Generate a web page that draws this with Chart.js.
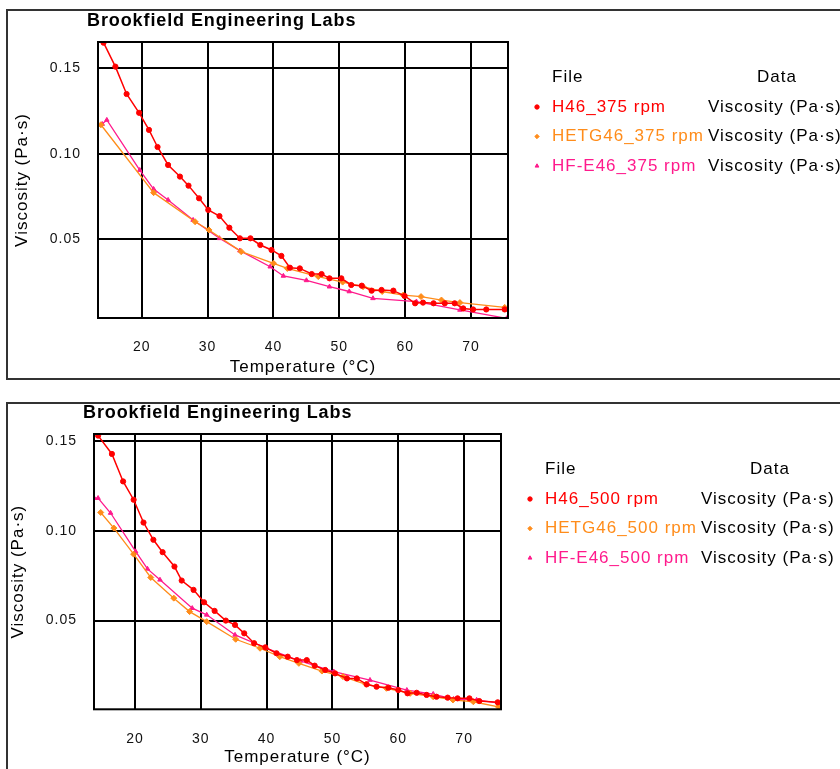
<!DOCTYPE html>
<html>
<head>
<meta charset="utf-8">
<script src="https://cdn.jsdelivr.net/npm/chart.js@4.4.1/dist/chart.umd.min.js"></script>
<style>
  html, body { margin: 0; padding: 0; background: #fff; width: 840px; height: 769px; overflow: hidden; }
  .box { position: absolute; left: 6px; width: 900px; border: 2px solid #333; box-sizing: border-box; }
  #box1 { top: 9px; height: 371px; }
  #box2 { top: 402px; height: 420px; }
  canvas { position: absolute; left: 0; }
  #c1 { top: 0; }
  #c2 { top: 392px; }
</style>
</head>
<body>
<div class="box" id="box1"></div>
<div class="box" id="box2"></div>
<canvas id="c1" width="840" height="390"></canvas>
<canvas id="c2" width="840" height="390"></canvas>
<script>
// --- data ---
const chartTitle = 'Brookfield Engineering Labs';
const xTitle = 'Temperature (°C)';
const yTitle = 'Viscosity (Pa·s)';
const dataColumn = 'Viscosity (Pa·s)';

const files375 = ['H46_375 rpm', 'HETG46_375 rpm', 'HF-E46_375 rpm'];
const files500 = ['H46_500 rpm', 'HETG46_500 rpm', 'HF-E46_500 rpm'];

const h46_375T = [14.2, 16.0, 17.7, 19.6, 21.1, 22.4, 24.0, 25.8, 27.1, 28.7, 30.1, 31.8, 33.3, 34.9, 36.5, 38.0, 39.7, 41.2, 42.5, 44.0, 45.8, 47.3, 48.5, 50.3, 51.8, 53.4, 54.9, 56.4, 58.2, 59.9, 61.5, 62.7, 64.3, 66.0, 67.5, 68.8, 70.3, 72.3, 75.1];
const h46_375V = [0.165, 0.151, 0.135, 0.124, 0.114, 0.104, 0.0935, 0.0867, 0.0814, 0.074, 0.0672, 0.0636, 0.0568, 0.0506, 0.0506, 0.0467, 0.0438, 0.0403, 0.0334, 0.033, 0.0297, 0.0297, 0.0272, 0.0272, 0.0233, 0.0229, 0.02, 0.0204, 0.02, 0.0169, 0.0126, 0.013, 0.0126, 0.0126, 0.0126, 0.0096, 0.009, 0.009, 0.009];
const hetg46_375T = [13.8, 21.8, 28.1, 30.2, 35.1, 40.0, 42.1, 46.8, 50.5, 53.6, 56.5, 59.7, 62.4, 65.5, 68.3, 75.1];
const hetg46_375V = [0.117, 0.0773, 0.0603, 0.0555, 0.0428, 0.036, 0.033, 0.0282, 0.025, 0.0223, 0.0195, 0.0174, 0.0165, 0.0145, 0.013, 0.0102];
const hfe46_375T = [14.0, 14.7, 19.7, 21.8, 24.0, 27.8, 31.8, 34.9, 39.5, 41.5, 45.0, 48.5, 51.5, 55.1, 61.7, 68.3, 75.4];
const hfe46_375V = [0.1174, 0.1198, 0.0905, 0.0794, 0.073, 0.0613, 0.0506, 0.0434, 0.034, 0.0286, 0.026, 0.0223, 0.0195, 0.0155, 0.0136, 0.0087, 0.0038];

const h46_500T = [14.4, 16.5, 18.2, 19.8, 21.3, 22.8, 24.2, 26.0, 27.1, 28.9, 30.5, 32.1, 33.8, 35.2, 36.6, 38.1, 39.8, 41.5, 43.2, 44.6, 46.1, 47.3, 48.9, 50.4, 52.2, 53.7, 55.2, 56.7, 58.5, 60.0, 61.4, 62.8, 64.3, 65.8, 67.5, 69.0, 70.8, 72.3, 75.1];
const h46_500V = [0.153, 0.1428, 0.1275, 0.1173, 0.1046, 0.095, 0.0881, 0.0801, 0.0723, 0.0671, 0.0602, 0.0554, 0.05, 0.0476, 0.0429, 0.0374, 0.0351, 0.0318, 0.0299, 0.028, 0.028, 0.0249, 0.0225, 0.0206, 0.0178, 0.0178, 0.0145, 0.0132, 0.0126, 0.0113, 0.0095, 0.0098, 0.0086, 0.0076, 0.0071, 0.0067, 0.0067, 0.0052, 0.0045];
const hetg46_500T = [14.8, 16.8, 19.8, 22.4, 25.9, 28.3, 30.9, 35.3, 39.0, 42.0, 44.9, 48.4, 51.6, 55.1, 58.2, 61.8, 65.3, 68.3, 71.4, 75.2];
const hetg46_500V = [0.1102, 0.1015, 0.087, 0.074, 0.0625, 0.055, 0.0494, 0.0396, 0.0346, 0.0299, 0.0262, 0.0219, 0.0188, 0.0145, 0.0123, 0.0095, 0.0076, 0.0058, 0.0048, 0.002];
const hfe46_500T = [13.8, 14.4, 16.3, 20.1, 21.9, 23.8, 28.7, 30.9, 35.2, 40.0, 45.1, 50.2, 55.7, 61.3, 65.3, 68.4, 71.9, 75.5];
const hfe46_500V = [0.1182, 0.1182, 0.1099, 0.0885, 0.0788, 0.0727, 0.0569, 0.0532, 0.042, 0.0346, 0.0275, 0.0216, 0.0169, 0.0113, 0.0091, 0.0063, 0.0058, 0.0039];

const xTicks = [20, 30, 40, 50, 60, 70];
const yStep = 0.05;

// --- look ---
const FONT = '"Liberation Sans", Arial, sans-serif';
Chart.defaults.font.family = FONT;

const styles = [
  { color: '#ff0000', pointStyle: 'circle', radius: 2.6, width: 1.5 },
  { color: '#ff8c1a', pointStyle: 'rectRot', radius: 3, width: 1.3 },
  { color: '#ff1a8c', pointStyle: 'triangle', radius: 2.6, width: 1.3 },
];

const zip = (xs, ys) => xs.map((x, i) => ({ x, y: ys[i] }));

const framePlugin = {
  id: 'frame',
  beforeDraw(chart) {
    chart.ctx.letterSpacing = '1px';
  },
  afterDraw(chart, args, opts) {
    const { ctx, chartArea: a } = chart;
    ctx.save();
    ctx.strokeStyle = '#000';
    ctx.lineWidth = 2;
    ctx.strokeRect(a.left, a.top, a.right - a.left, a.bottom - a.top);

    ctx.letterSpacing = '0.9px';
    ctx.font = 'bold 18px ' + FONT;
    ctx.fillStyle = '#000';
    ctx.textAlign = 'left';
    ctx.textBaseline = 'middle';
    ctx.fillText(opts.title, a.left - 11, a.top - 21);

    // two column legend: File / Data
    ctx.letterSpacing = '1px';
    ctx.font = '17px ' + FONT;
    const lx = a.right;
    ctx.fillText('File', lx + 44, a.top + 35);
    ctx.fillText('Data', lx + 249, a.top + 35);
    chart.data.datasets.forEach((ds, i) => {
      const y = a.top + 65 + i * 29.5;
      ctx.fillStyle = ds.borderColor;
      ctx.strokeStyle = ds.borderColor;
      ctx.lineWidth = 1;
      Chart.helpers.drawPoint(ctx, { pointStyle: ds.pointStyle, radius: 2.2, rotation: 0, borderWidth: 1 }, lx + 29, y);
      ctx.fillText(ds.label, lx + 44, y);
      ctx.fillStyle = '#000';
      ctx.fillText(opts.dataLabel, lx + 200, y);
    });
    ctx.restore();
  }
};

function makeChart(id, p, files, series) {
  const datasets = series.map((s, i) => ({
    label: files[i],
    data: zip(s[0], s[1]),
    showLine: true,
    borderColor: styles[i].color,
    backgroundColor: styles[i].color,
    borderWidth: styles[i].width,
    pointStyle: styles[i].pointStyle,
    pointRadius: styles[i].radius,
    pointBorderWidth: 1,
    pointBackgroundColor: styles[i].color,
    tension: 0,
  }));

  return new Chart(document.getElementById(id), {
    type: 'scatter',
    data: { datasets },
    plugins: [framePlugin],
    options: {
      responsive: false,
      animation: false,
      events: [],
      layout: { padding: { top: 42, right: p.padR, left: 0, bottom: 0 } },
      plugins: {
        legend: { display: false },
        tooltip: { enabled: false },
        frame: { title: chartTitle, dataLabel: dataColumn },
      },
      scales: {
        x: {
          type: 'linear',
          min: p.xmin,
          max: p.xmax,
          afterFit: s => { s.height = p.xH; },
          afterBuildTicks: s => { s.ticks = xTicks.map(v => ({ value: v })); },
          grid: { color: '#000', lineWidth: 2, drawTicks: false },
          border: { display: false },
          ticks: { color: '#111', font: { size: 14 }, padding: 21, maxRotation: 0 },
          title: { display: true, text: xTitle, color: '#000', font: { size: 17 }, padding: { top: 0, bottom: p.xtb } },
        },
        y: {
          type: 'linear',
          min: p.ymin,
          max: p.ymax,
          afterFit: s => { s.width = p.yW; },
          grid: { color: '#000', lineWidth: 2, drawTicks: false },
          border: { display: false },
          ticks: {
            stepSize: yStep,
            includeBounds: false,
            color: '#111',
            font: { size: 14 },
            padding: 17,
            callback: v => v.toFixed(2),
          },
          title: { display: true, text: yTitle, color: '#000', font: { size: 17 }, padding: { top: p.ytp, bottom: 0 } },
        },
      },
    },
  });
}

const panel1 = { yW: 98, xH: 72, padR: 332, xmin: 13.36, xmax: 75.6, ymin: 0.004, ymax: 0.1654, ytp: 12, xtb: 12 };
const panel2 = { yW: 94, xH: 72.7, padR: 339, xmin: 13.78, xmax: 75.6, ymin: 0.0006, ymax: 0.1539, ytp: 8, xtb: 14 };

makeChart('c1', panel1, files375, [
  [h46_375T, h46_375V],
  [hetg46_375T, hetg46_375V],
  [hfe46_375T, hfe46_375V],
]);
makeChart('c2', panel2, files500, [
  [h46_500T, h46_500V],
  [hetg46_500T, hetg46_500V],
  [hfe46_500T, hfe46_500V],
]);
</script>
</body>
</html>
